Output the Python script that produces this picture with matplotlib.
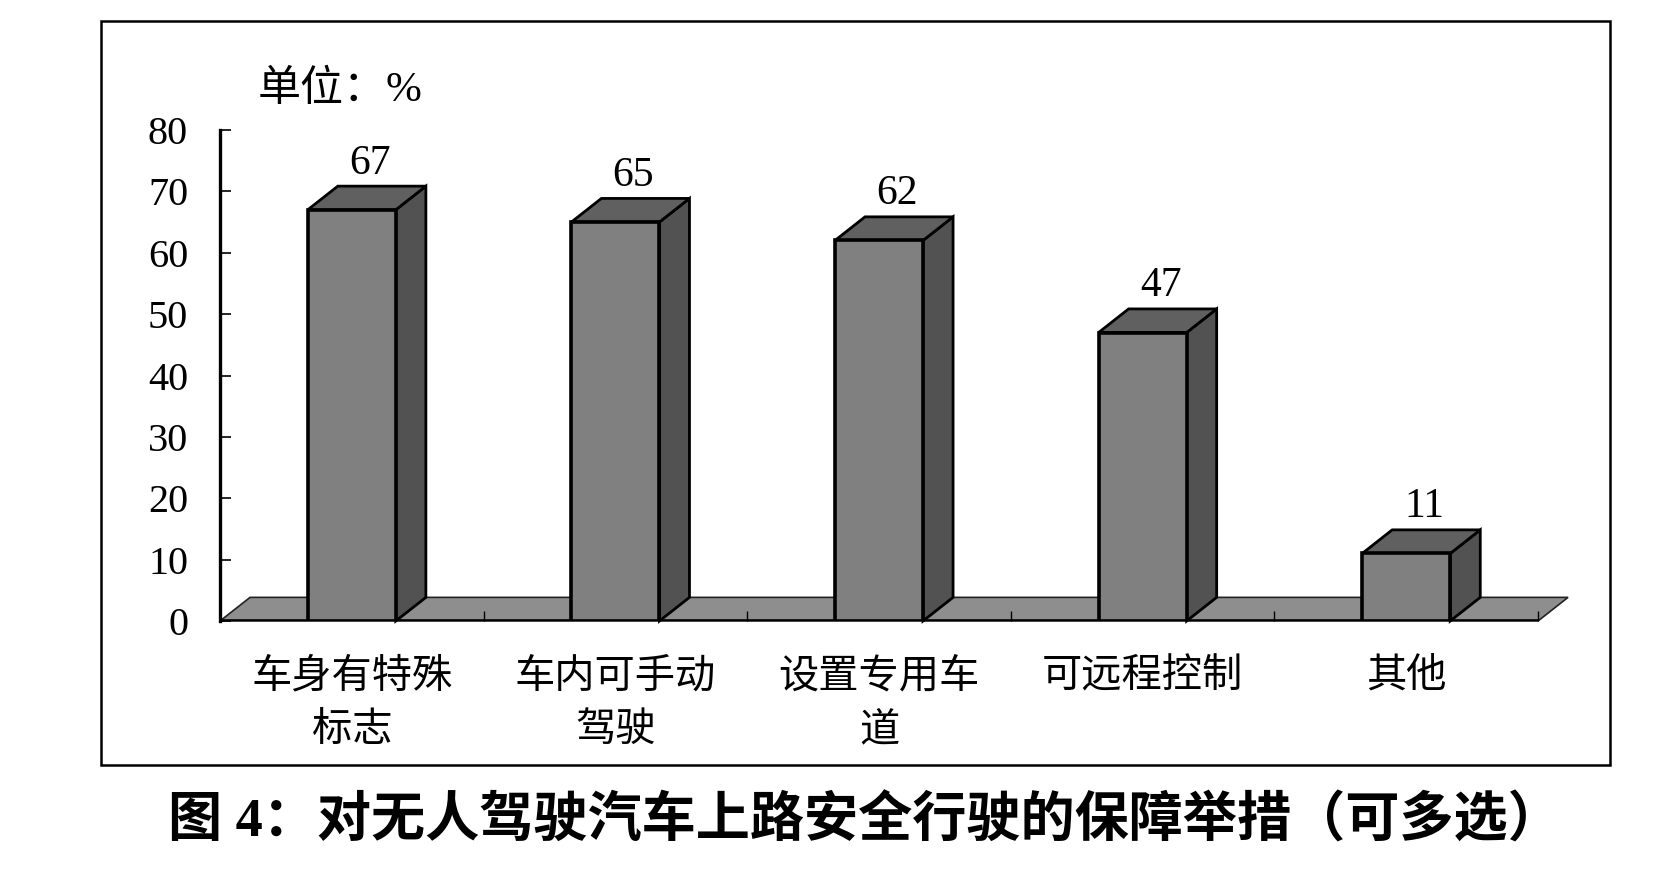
import matplotlib
matplotlib.use("Agg")
import matplotlib.pyplot as plt
from matplotlib.patches import Polygon, Rectangle
import numpy as np

categories = ["车身有特殊\n标志", "车内可手动\n驾驶", "设置专用车\n道", "可远程控制", "其他"]
values = [67, 65, 62, 47, 11]
yticks = [0, 10, 20, 30, 40, 50, 60, 70, 80]
unit_label = "单位：%"
title = "图 4：对无人驾驶汽车上路安全行驶的保障举措（可多选）"

CJK = ["Noto Sans CJK SC", "DejaVu Sans"]
SERIF = ["Liberation Serif", "Noto Sans CJK SC", "DejaVu Sans"]

W, H = 1663, 881
fig = plt.figure(figsize=(W / 100, H / 100), dpi=100)

# axes placed so that 0..5 categories / 0..80 fit the reference pixels
ax = fig.add_axes([220 / W, (H - 621) / H, 1318 / W, 491 / H])
ax.set_xlim(0, len(values))
ax.set_ylim(0, 80)
ax.patch.set_visible(False)

dx, dy = 0.114, 3.85     # depth offset of the fake 3d
bw = 0.334
front_c, side_c, top_c, floor_c = "#808080", "#525252", "#606060", "#8e8e8e"

n = len(values)
floor = Polygon([(0, 0), (n, 0), (n + dx, dy), (dx, dy)], closed=True,
                facecolor=floor_c, edgecolor="#222222", lw=1.2, zorder=1, clip_on=False)
ax.add_patch(floor)
ax.axhline(0, color="black", lw=2.6, zorder=2)

x = np.arange(n) + 0.5
for xi, v in zip(x, values):
    r = xi + bw / 2
    l = xi - bw / 2
    side = Polygon([(r, 0), (r + dx, dy), (r + dx, v + dy), (r, v)], closed=True,
                   facecolor=side_c, edgecolor="black", lw=2.0, zorder=3, clip_on=False)
    top = Polygon([(l, v), (r, v), (r + dx, v + dy), (l + dx, v + dy)], closed=True,
                  facecolor=top_c, edgecolor="black", lw=2.0, zorder=3, clip_on=False)
    ax.add_patch(side)
    ax.add_patch(top)
    ax.annotate(str(v), (xi + dx * 0.6, v + dy), xytext=(0, 9), textcoords="offset points",
                ha="center", va="baseline", fontsize=30, family=SERIF, zorder=5)

ax.bar(x, values, width=bw, color=front_c, edgecolor="black", lw=2.6, zorder=4)

for s in ["top", "right", "bottom"]:
    ax.spines[s].set_visible(False)
ax.spines["left"].set_linewidth(2.4)
ax.spines["left"].set_zorder(6)

ax.set_yticks(yticks)
ax.set_yticklabels([str(t) for t in yticks], family=SERIF, fontsize=29)
ax.tick_params(axis="y", direction="in", length=8, width=1.2, pad=23)

ax.set_xticks(x)
ax.set_xticklabels(categories, family=CJK, fontsize=29, linespacing=1.38)
ax.tick_params(axis="x", which="major", length=0, pad=25)
ax.set_xticks(np.arange(1, n + 1), minor=True)
ax.tick_params(axis="x", which="minor", direction="in", length=7, width=1.0)

fig.text(258 / W, (H - 90) / H, unit_label, ha="left", va="center",
         fontsize=31, family=SERIF)

fig.add_artist(Rectangle((101 / W, (H - 765) / H), (1610 - 101) / W, (765 - 21) / H,
                         transform=fig.transFigure, fill=False, lw=1.8, edgecolor="black"))

fig.text(865 / W, (H - 822) / H, title, ha="center", va="center",
         fontsize=39, fontweight="bold", family=SERIF)

fig.savefig("out.png", dpi=100)
